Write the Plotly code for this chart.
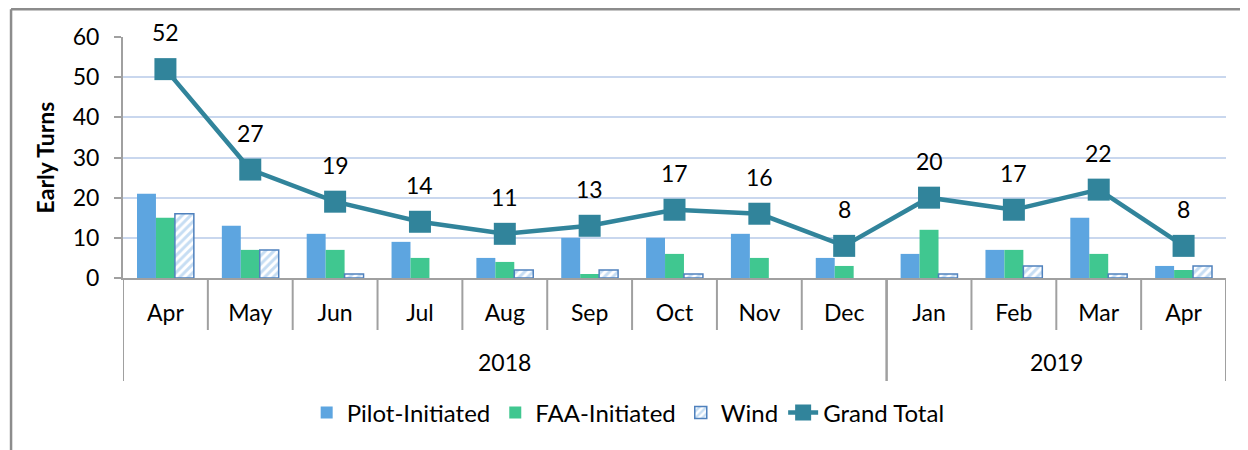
import plotly.graph_objects as go

years = ["2018"] * 9 + ["2019"] * 4
months = ["Apr", "May", "Jun", "Jul", "Aug", "Sep", "Oct", "Nov", "Dec", "Jan", "Feb", "Mar", "Apr"]
pilot = [21, 13, 11, 9, 5, 10, 10, 11, 5, 6, 7, 15, 3]
faa = [15, 7, 7, 5, 4, 1, 6, 5, 3, 12, 7, 6, 2]
wind = [16, 7, 1, 0, 2, 2, 1, 0, 0, 1, 3, 1, 3]
total = [52, 27, 19, 14, 11, 13, 17, 16, 8, 20, 17, 22, 8]
y_ticks = [0, 10, 20, 30, 40, 50, 60]

FONT = "Lato"
FS = 23
GRAY = "#A0A0A0"
PLOT_H = 241
pos = list(range(len(months)))

def nz(vals):
    # zero-height bars are not drawn (avoids an outline at the baseline)
    return [v if v else None for v in vals]

fig = go.Figure()
fig.add_trace(go.Bar(x=pos, y=nz(pilot), name="Pilot-Initiated", marker=dict(color="#5DA5E0", line=dict(width=0))))
fig.add_trace(go.Bar(x=pos, y=nz(faa), name="FAA-Initiated", marker=dict(color="#40C790", line=dict(width=0))))
fig.add_trace(go.Bar(x=pos, y=nz(wind), name="Wind",
                     marker=dict(color="white", line=dict(color="#4F81BD", width=1.5),
                                 pattern=dict(shape="/", fgcolor="#8DBCE8", bgcolor="white", size=6, solidity=0.5))))
fig.add_trace(go.Scatter(x=pos, y=total, name="Grand Total", mode="lines+markers",
                         line=dict(color="#31849B", width=4.5),
                         marker=dict(symbol="square", size=22, color="#31849B"),
                         cliponaxis=False))

annotations = []
for i, v in enumerate(total):
    annotations.append(dict(x=i, y=v, xref="x", yref="y", text=str(v), showarrow=False,
                            yshift=37, font=dict(size=FS, color="black", family=FONT)))

# year group labels and dividers
groups = []
start = 0
for i in range(1, len(years) + 1):
    if i == len(years) or years[i] != years[start]:
        groups.append((years[start], start, i - 1))
        start = i

shapes = []
for i in range(len(months) + 1):
    shapes.append(dict(type="line", xref="x", yref="paper", x0=i - 0.5, x1=i - 0.5,
                       y0=0, y1=-52 / PLOT_H, line=dict(color=GRAY, width=2)))
for name, a, b in groups:
    annotations.append(dict(x=(a + b) / 2, y=-84 / PLOT_H, xref="x", yref="paper", text=name,
                            showarrow=False, yanchor="middle", font=dict(size=FS, color="black", family=FONT)))
    for edge in (a - 0.5, b + 0.5):
        shapes.append(dict(type="line", xref="x", yref="paper", x0=edge, x1=edge,
                           y0=0, y1=-103 / PLOT_H, line=dict(color=GRAY, width=2)))

# outer chart border (top and left visible)
shapes.append(dict(type="line", xref="paper", yref="paper", x0=-0.1015, x1=1.03, y0=1.115, y1=1.115,
                   line=dict(color="#8C8C8C", width=2.5)))
shapes.append(dict(type="line", xref="paper", yref="paper", x0=-0.1015, x1=-0.1015, y0=1.115, y1=-0.75,
                   line=dict(color="#8C8C8C", width=2.5)))

fig.update_layout(
    width=1240, height=442,
    margin=dict(l=115, r=22, t=29, b=172, autoexpand=False),
    paper_bgcolor="white", plot_bgcolor="white",
    barmode="group", bargap=0.33, bargroupgap=0,
    font=dict(family=FONT, size=FS, color="black"),
    showlegend=True,
    legend=dict(orientation="h", x=0.458, xanchor="center", y=-135 / PLOT_H, yanchor="middle",
                font=dict(size=24), traceorder="normal"),
    xaxis=dict(range=[-0.5, len(months) - 0.5], tickvals=pos, ticktext=months,
               showline=True, linecolor=GRAY, linewidth=2, ticks="", showgrid=False, zeroline=False,
               ticklabelstandoff=13, tickfont=dict(size=FS), automargin=False),
    yaxis=dict(range=[0, 60], tickvals=y_ticks, showgrid=True, gridcolor="#C9D7EE", gridwidth=2,
               zeroline=False, automargin=False,
               showline=True, linecolor=GRAY, linewidth=2, ticks="outside", ticklen=7,
               tickcolor=GRAY, tickwidth=2, tickfont=dict(size=FS), ticklabelstandoff=10,
               title=dict(text="<b>Early Turns</b>", font=dict(size=23), standoff=12)),
    shapes=shapes,
    annotations=annotations,
)

fig.write_html("out.html")
